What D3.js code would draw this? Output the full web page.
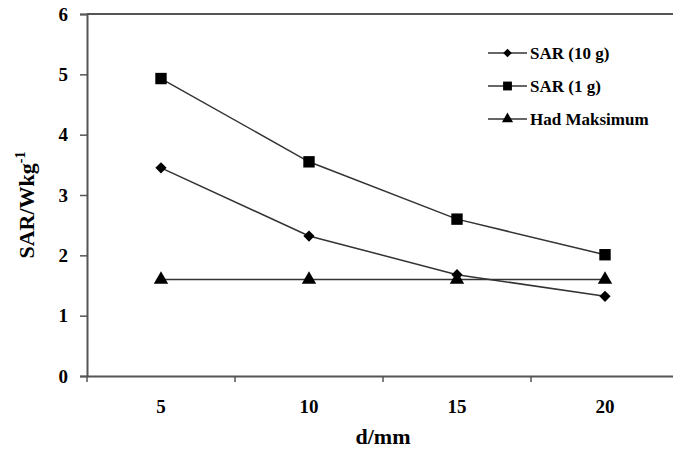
<!DOCTYPE html>
<html>
<head>
<meta charset="utf-8">
<script src="https://cdn.jsdelivr.net/npm/d3@7"></script>
<style>
  body { margin: 0; background: #fff; }
  svg { display: block; }
  svg text { font-family: "Liberation Serif", "Times New Roman", Times, serif; font-weight: bold; fill: #000; }
</style>
</head>
<body>
<div id="app"></div>
<script>
const CATEGORIES = ["5", "10", "15", "20"];
const SAR_10G = [3.45, 2.32, 1.68, 1.32];
const SAR_1G = [4.93, 3.55, 2.6, 2.01];
const HAD_MAKSIMUM = [1.6, 1.6, 1.6, 1.6];
const SERIES_NAMES = ["SAR (10 g)", "SAR (1 g)", "Had Maksimum"];
const Y_TICKS = [0, 1, 2, 3, 4, 5, 6];

const WIDTH = 673;
const HEIGHT = 453;
const PLOT = { LEFT: 87, RIGHT: 679, TOP: 14, BOTTOM: 376 };
const LINE_COLOR = "#333";
const AXIS_COLOR = "#555";

const svg = d3
  .select("#app")
  .append("svg")
  .attr("width", WIDTH)
  .attr("height", HEIGHT);

const x = d3.scaleBand().domain(CATEGORIES).range([PLOT.LEFT, PLOT.RIGHT]);
const y = d3.scaleLinear().domain([0, 6]).range([PLOT.BOTTOM, PLOT.TOP]);

// top border of plot area
svg
  .append("line")
  .attr("x1", PLOT.LEFT)
  .attr("x2", WIDTH)
  .attr("y1", y(6))
  .attr("y2", y(6))
  .attr("stroke", AXIS_COLOR)
  .attr("stroke-width", 2);

// y axis
const yAxis = svg
  .append("g")
  .attr("transform", `translate(${PLOT.LEFT},0)`)
  .call(
    d3.axisLeft(y).tickValues(Y_TICKS).tickFormat(d3.format("d")).tickSize(7).tickPadding(12)
  );
yAxis.attr("font-family", null);
yAxis.select(".domain").attr("stroke", AXIS_COLOR).attr("stroke-width", 2);
yAxis.selectAll(".tick line").attr("stroke", AXIS_COLOR).attr("stroke-width", 1.5);
yAxis.selectAll(".tick text").attr("font-size", 19);

// x axis: ticks at category boundaries
const xAxis = svg
  .append("g")
  .attr("transform", `translate(0,${PLOT.BOTTOM})`)
  .call(d3.axisBottom(x).tickSize(0).tickPadding(24));
xAxis.attr("font-family", null);
xAxis.select(".domain").attr("stroke", AXIS_COLOR).attr("stroke-width", 2);
xAxis.selectAll(".tick text").attr("font-size", 19);
xAxis
  .selectAll(".boundary")
  .data(CATEGORIES)
  .join("line")
  .attr("x1", (d) => x(d))
  .attr("x2", (d) => x(d))
  .attr("y1", 0)
  .attr("y2", 6)
  .attr("stroke", AXIS_COLOR)
  .attr("stroke-width", 1.5);

// axis titles
svg
  .append("text")
  .attr("x", x("10") + x.bandwidth())
  .attr("y", 444)
  .attr("text-anchor", "middle")
  .attr("font-size", 22)
  .text("d/mm");

const yTitle = svg
  .append("text")
  .attr("transform", "translate(34,205) rotate(-90)")
  .attr("text-anchor", "middle")
  .attr("font-size", 22);
yTitle.append("tspan").text("SAR/Wkg");
yTitle.append("tspan").attr("dy", -9).attr("font-size", 14).text("-1");

// markers
const symbols = [d3.symbolDiamond2, d3.symbolSquare, d3.symbolTriangle];
const symbolSizes = [80, 130, 90];

const line = d3
  .line()
  .x((d, i) => x(CATEGORIES[i]) + x.bandwidth() / 2)
  .y((d) => y(d));

const draw = (values, k) => {
  svg
    .append("path")
    .attr("d", line(values))
    .attr("fill", "none")
    .attr("stroke", LINE_COLOR)
    .attr("stroke-width", 1.5);
  svg
    .append("g")
    .selectAll("path")
    .data(values)
    .join("path")
    .attr(
      "transform",
      (d, i) => `translate(${x(CATEGORIES[i]) + x.bandwidth() / 2},${y(d)})`
    )
    .attr("d", d3.symbol(symbols[k], symbolSizes[k]))
    .attr("fill", "#000");
};
// draw triangle line first so others sit on top
draw(HAD_MAKSIMUM, 2);
draw(SAR_10G, 0);
draw(SAR_1G, 1);

// legend
const legend = svg
  .append("g")
  .selectAll("g")
  .data(SERIES_NAMES)
  .join("g")
  .attr("transform", (d, i) => `translate(488,${53 + i * 33})`);
legend
  .append("line")
  .attr("x1", 0)
  .attr("x2", 39)
  .attr("stroke", LINE_COLOR)
  .attr("stroke-width", 1.5);
legend
  .append("path")
  .attr("transform", "translate(19.5,0)")
  .attr("d", (d, i) => d3.symbol(symbols[i], symbolSizes[i] * 0.6)());
legend
  .append("text")
  .attr("x", 42)
  .attr("dy", "0.35em")
  .attr("font-size", 17)
  .text((d) => d);
</script>
</body>
</html>
